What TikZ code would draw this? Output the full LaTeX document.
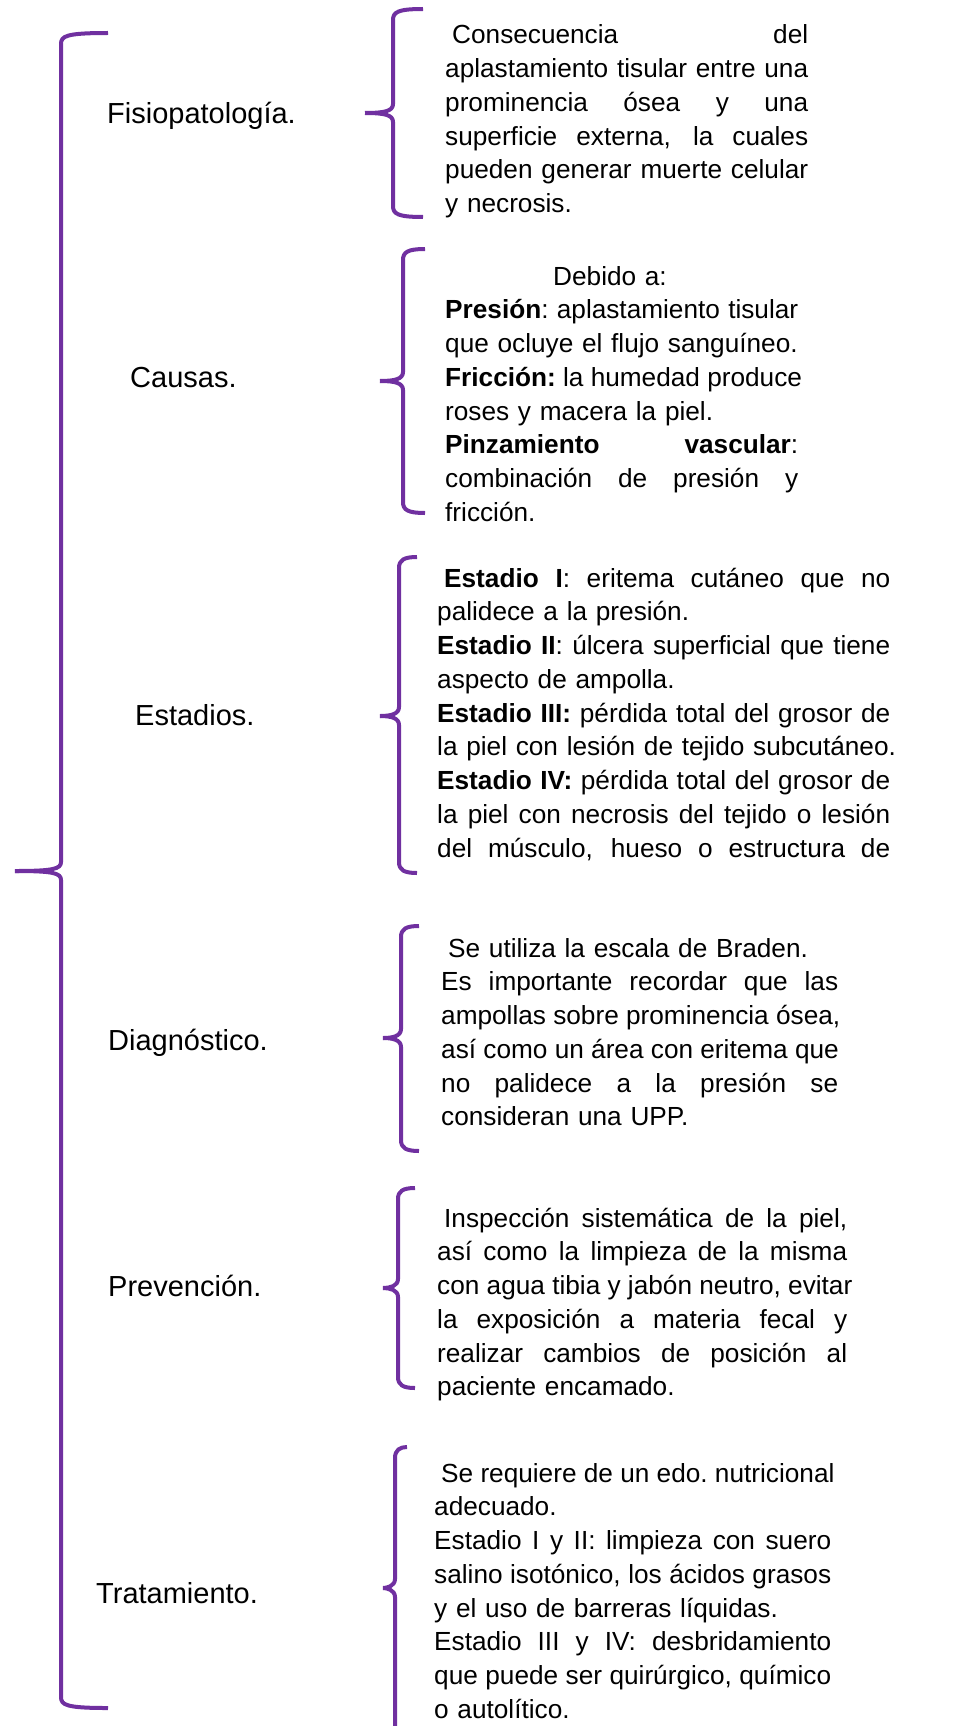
\documentclass[tikz,border=0pt]{standalone}
\usepackage{fontspec}
\setmainfont{Liberation Sans}
\definecolor{brcol}{HTML}{7030A0}
\newcommand\jl[2]{\leavevmode\hbox to #1{\spaceskip=0.278em plus 1fil\relax\xspaceskip=0.278em plus 1fil\relax #2}}
\newcommand\ubrace[6]{%
  \draw[brc] (#5,#2) .. controls ({#1+5},#2) and (#1,{#2+3}) .. (#1,{#2+11}) -- (#1,{#3-9}) .. controls (#1,{#3-2}) and ({#1-8},#3) .. (#6,#3);
  \draw[brc] (#6,#3) .. controls ({#1-8},#3) and (#1,{#3+2}) .. (#1,{#3+9}) -- (#1,{#4-11}) .. controls (#1,{#4-3}) and ({#1+5},#4) .. (#5,#4);
}
\begin{document}
\begin{tikzpicture}[x=1pt,y=-1pt,
  brc/.style={draw=brcol,line width=4pt,line cap=butt,line join=round},
  lab/.style={anchor=base west,inner sep=0pt,font=\fontsize{29}{34}\selectfont},
  txt/.style={anchor=base west,inner sep=0pt,align=left,text width=540pt,font=\fontsize{26.2}{33.75}\selectfont}]
\useasboundingbox (0,0) rectangle (967,1726);
\clip (0,0) rectangle (967,1726);
\fill[white] (0,0) rectangle (967,1726);

% braces
\ubrace{61}{33}{871}{1708}{108}{15}
\ubrace{393}{9}{113}{217}{423}{365}
\ubrace{403}{249}{381}{513}{425}{380}
\ubrace{399}{557}{716}{873}{417}{380}
\ubrace{401}{926}{1038}{1151}{419}{383}
\ubrace{398}{1188}{1288}{1388}{415}{383}
\ubrace{395}{1447}{1588}{1780}{407}{383}

% left labels
\node[lab] (fisio) at (107,124) {Fisiopatología.};
\node[lab] (causas) at (130,387) {Causas.};
\node[lab] (estadios) at (135,725) {Estadios.};
\node[lab] (diag) at (108,1050) {Diagnóstico.};
\node[lab] (prev) at (108,1296) {Prevención.};
\node[lab] (trat) at (96,1603) {Tratamiento.};

% text blocks
\node[txt] (tfisio) at (445,44) {%
\jl{363pt}{\hspace*{7pt}Consecuencia del}\\
\jl{363pt}{aplastamiento tisular entre una}\\
\jl{363pt}{prominencia ósea y una}\\
\jl{363pt}{superficie externa, la cuales}\\
\jl{363pt}{pueden generar muerte celular}\\
y necrosis.};

\node[txt] (tcausas) at (445,285) {%
\hspace*{108pt}Debido a:\\
\jl{353pt}{\textbf{Presión}: aplastamiento tisular}\\
que ocluye el flujo sanguíneo.\\
\jl{353pt}{\textbf{Fricción:} la humedad produce}\\
roses y macera la piel.\\
\jl{353pt}{\textbf{Pinzamiento vascular}:}\\
\jl{353pt}{combinación de presión y}\\
fricción.};

\node[txt] (testadios) at (437,587) {%
\jl{453pt}{\hspace*{7pt}\textbf{Estadio I}: eritema cutáneo que no}\\
palidece a la presión.\\
\jl{453pt}{\textbf{Estadio II}: úlcera superficial que tiene}\\
aspecto de ampolla.\\
\jl{453pt}{\textbf{Estadio III:} pérdida total del grosor de}\\
la piel con lesión de tejido subcutáneo.\\
\jl{453pt}{\textbf{Estadio IV:} pérdida total del grosor de}\\
\jl{453pt}{la piel con necrosis del tejido o lesión}\\
\jl{453pt}{del músculo, hueso o estructura de}};

\node[txt] (tdiag) at (441,957) {%
\hspace*{7pt}Se utiliza la escala de Braden.\\
\jl{397pt}{Es importante recordar que las}\\
\jl{397pt}{ampollas sobre prominencia ósea,}\\
\jl{397pt}{así como un área con eritema que}\\
\jl{397pt}{no palidece a la presión se}\\
consideran una UPP.};

\node[txt] (tprev) at (437,1227) {%
\jl{410pt}{\hspace*{7pt}Inspección sistemática de la piel,}\\
\jl{410pt}{así como la limpieza de la misma}\\
\jl{410pt}{con agua tibia y jabón neutro, evitar}\\
\jl{410pt}{la exposición a materia fecal y}\\
\jl{410pt}{realizar cambios de posición al}\\
paciente encamado.};

\node[txt] (ttrat) at (434,1482) {%
\jl{397pt}{\hspace*{7pt}Se requiere de un edo.\ nutricional}\\
adecuado.\\
\jl{397pt}{Estadio I y II: limpieza con suero}\\
\jl{397pt}{salino isotónico, los ácidos grasos}\\
y el uso de barreras líquidas.\\
\jl{397pt}{Estadio III y IV: desbridamiento}\\
\jl{397pt}{que puede ser quirúrgico, químico}\\
o autolítico.};
\end{tikzpicture}
\end{document}
